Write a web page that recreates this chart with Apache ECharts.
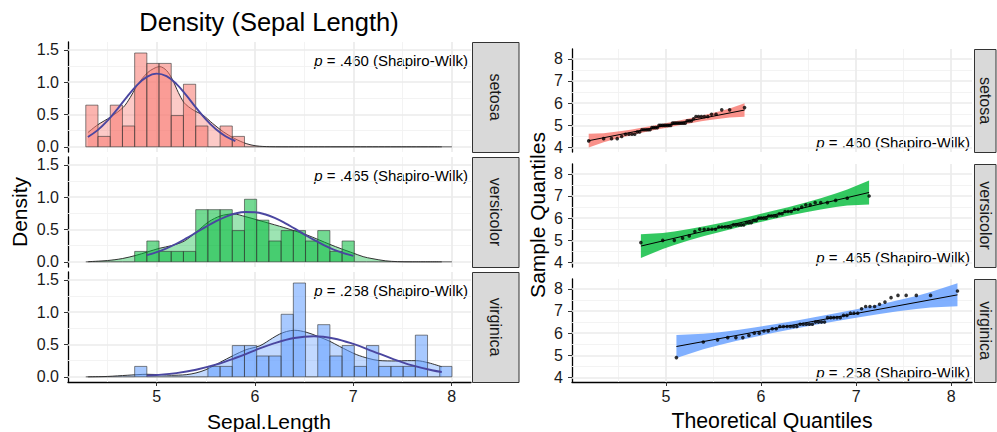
<!DOCTYPE html>
<html><head><meta charset="utf-8">
<script src="https://cdn.jsdelivr.net/npm/echarts@6/dist/echarts.min.js"></script>
<style>html,body{margin:0;padding:0;background:#fff}#c{width:997px;height:432px}</style>
</head><body><div id="c"></div>
<script>
const FONT = '"Liberation Sans", Arial, sans-serif';
const species = ['setosa', 'versicolor', 'virginica'];
const speciesColors = ['#F8766D', '#00BA38', '#619CFF'];
const pValues = ['.460', '.465', '.258'];

// histogram bins (edges) and densities
const binEdges = [4.279,4.403,4.528,4.652,4.776,4.900,5.024,5.148,5.272,5.397,5.521,5.645,5.769,5.893,6.017,6.141,6.266,6.390,6.514,6.638,6.762,6.886,7.010,7.134,7.259,7.383,7.507,7.631,7.755,7.879,8.003];
const histSetosa = [0.644,0.161,0.644,0.322,1.450,1.289,1.289,0.483,0.967,0.322,0,0.322,0.161,0,0,0,0,0,0,0,0,0,0,0,0,0,0,0,0,0];
const histVersicolor = [0,0,0,0,0.161,0.322,0.161,0.161,0.161,0.806,0.806,0.806,0.483,0.967,0.644,0.322,0.483,0.483,0.322,0.483,0.161,0.322,0,0,0,0,0,0,0,0];
const histVirginica = [0,0,0,0,0.161,0,0,0,0,0,0.161,0.161,0.483,0.483,0.322,0.322,0.967,1.450,0,0.806,0.322,0.483,0.161,0.483,0.161,0.161,0.161,0.644,0,0.161];

// kernel density curves [x, density]
const kdeSetosa = [[4.30,0.22],[4.40,0.34],[4.53,0.46],[4.66,0.61],[4.73,0.76],[4.79,0.92],[4.85,1.05],[4.91,1.15],[4.97,1.21],[5.03,1.24],[5.10,1.18],[5.16,1.04],[5.22,0.84],[5.28,0.68],[5.37,0.57],[5.47,0.49],[5.57,0.36],[5.68,0.23],[5.79,0.13],[5.91,0.05],[6.01,0.015],[6.15,0.002],[6.4,0],[7.9,0]];
const kdeVersicolor = [[4.30,0.002],[4.50,0.02],[4.65,0.05],[4.79,0.10],[4.90,0.15],[5.03,0.21],[5.15,0.25],[5.28,0.32],[5.41,0.47],[5.53,0.62],[5.65,0.71],[5.78,0.74],[5.90,0.70],[6.04,0.64],[6.25,0.55],[6.40,0.48],[6.52,0.42],[6.65,0.34],[6.76,0.27],[6.88,0.20],[6.99,0.14],[7.10,0.08],[7.19,0.05],[7.33,0.015],[7.45,0.003],[7.6,0],[7.9,0]];
const kdeVirginica = [[4.30,0.0],[4.50,0.006],[4.70,0.024],[4.90,0.039],[5.05,0.032],[5.15,0.024],[5.30,0.033],[5.40,0.06],[5.50,0.11],[5.64,0.22],[5.78,0.33],[5.91,0.42],[6.05,0.48],[6.18,0.60],[6.25,0.66],[6.32,0.70],[6.40,0.72],[6.52,0.69],[6.64,0.625],[6.76,0.55],[6.86,0.47],[7.03,0.345],[7.16,0.282],[7.26,0.252],[7.43,0.245],[7.55,0.25],[7.64,0.25],[7.77,0.215],[7.90,0.155]];

// normal curves [x, density]
const normSetosa = [[4.3,0.152],[4.4,0.258],[4.5,0.404],[4.6,0.583],[4.7,0.776],[4.8,0.954],[4.9,1.082],[5.0,1.132],[5.1,1.092],[5.2,0.973],[5.3,0.799],[5.4,0.606],[5.5,0.424],[5.6,0.274],[5.7,0.163],[5.8,0.090]];
const normVersicolor = [[4.9,0.103],[5.0,0.149],[5.1,0.208],[5.2,0.279],[5.3,0.362],[5.4,0.451],[5.5,0.541],[5.6,0.625],[5.7,0.696],[5.8,0.747],[5.9,0.771],[6.0,0.767],[6.1,0.735],[6.2,0.678],[6.3,0.603],[6.4,0.516],[6.5,0.425],[6.6,0.338],[6.7,0.259],[6.8,0.190],[6.9,0.135],[7.0,0.092]];
const normVirginica = [[4.9,0.019],[5.0,0.028],[5.2,0.058],[5.4,0.110],[5.6,0.188],[5.8,0.291],[6.0,0.409],[6.2,0.521],[6.4,0.600],[6.6,0.627],[6.8,0.593],[7.0,0.508],[7.2,0.395],[7.4,0.278],[7.6,0.177],[7.8,0.102],[7.9,0.075]];

// QQ: theoretical and sample quantiles
const theoSetosa = [4.186,4.343,4.426,4.486,4.533,4.573,4.609,4.641,4.670,4.697,4.722,4.746,4.768,4.790,4.811,4.831,4.851,4.870,4.889,4.908,4.926,4.944,4.962,4.980,4.997,5.015,5.032,5.050,5.068,5.086,5.104,5.123,5.142,5.161,5.181,5.201,5.222,5.244,5.266,5.290,5.315,5.342,5.371,5.403,5.439,5.479,5.526,5.586,5.669,5.826];
const sampSetosa = [4.3,4.4,4.4,4.4,4.5,4.6,4.6,4.6,4.6,4.7,4.7,4.8,4.8,4.8,4.8,4.8,4.9,4.9,4.9,4.9,5.0,5.0,5.0,5.0,5.0,5.0,5.0,5.0,5.1,5.1,5.1,5.1,5.1,5.1,5.1,5.1,5.2,5.2,5.2,5.3,5.4,5.4,5.4,5.4,5.4,5.5,5.5,5.7,5.7,5.8];
const theoVersicolor = [4.735,4.965,5.087,5.174,5.244,5.303,5.355,5.401,5.444,5.483,5.520,5.555,5.588,5.620,5.651,5.680,5.709,5.737,5.765,5.792,5.818,5.845,5.871,5.897,5.923,5.949,5.975,6.001,6.027,6.054,6.080,6.107,6.135,6.163,6.192,6.221,6.252,6.284,6.317,6.352,6.389,6.428,6.471,6.517,6.569,6.628,6.698,6.785,6.907,7.137];
const sampVersicolor = [4.9,5.0,5.0,5.1,5.2,5.4,5.5,5.5,5.5,5.5,5.5,5.6,5.6,5.6,5.6,5.6,5.7,5.7,5.7,5.7,5.7,5.8,5.8,5.8,5.9,5.9,6.0,6.0,6.0,6.0,6.1,6.1,6.1,6.1,6.2,6.2,6.3,6.3,6.3,6.4,6.4,6.5,6.6,6.6,6.7,6.7,6.7,6.8,6.9,7.0];
const theoVirginica = [5.109,5.392,5.542,5.649,5.735,5.808,5.872,5.929,5.981,6.030,6.075,6.118,6.159,6.198,6.236,6.273,6.308,6.343,6.377,6.411,6.443,6.476,6.508,6.540,6.572,6.604,6.636,6.668,6.700,6.733,6.765,6.799,6.833,6.868,6.903,6.940,6.978,7.017,7.058,7.101,7.146,7.195,7.247,7.304,7.368,7.441,7.527,7.634,7.784,8.067];
const sampVirginica = [4.9,5.6,5.7,5.8,5.8,5.8,5.9,6.0,6.0,6.1,6.1,6.2,6.2,6.3,6.3,6.3,6.3,6.3,6.3,6.4,6.4,6.4,6.4,6.4,6.5,6.5,6.5,6.5,6.7,6.7,6.7,6.7,6.7,6.8,6.8,6.9,6.9,6.9,7.1,7.2,7.2,7.2,7.3,7.4,7.6,7.7,7.7,7.7,7.7,7.9];

// QQ reference lines (endpoints)
const qqLineSetosa = [[4.186,4.310],[5.826,5.690]];
const qqLineVersicolor = [[4.735,4.743],[7.137,7.157]];
const qqLineVirginica = [[5.109,5.399],[8.067,7.726]];

// confidence bands: x, lower, upper
const bandXSetosa = [4.186,4.343,4.426,4.533,4.641,4.768,4.889,5.006,5.123,5.244,5.371,5.479,5.586,5.669,5.826];
const bandLoSetosa = [4.003,4.236,4.338,4.457,4.567,4.688,4.797,4.897,4.993,5.088,5.181,5.253,5.314,5.352,5.383];
const bandHiSetosa = [4.617,4.648,4.686,4.747,4.819,4.912,5.007,5.103,5.203,5.312,5.433,5.543,5.662,5.764,5.997];
const bandXVersicolor = [4.735,4.965,5.087,5.244,5.401,5.588,5.765,5.936,6.107,6.284,6.471,6.628,6.785,6.907,7.137];
const bandLoVersicolor = [4.206,4.614,4.792,5.001,5.191,5.404,5.594,5.770,5.938,6.104,6.267,6.393,6.500,6.566,6.620];
const bandHiVersicolor = [5.280,5.334,5.400,5.507,5.633,5.796,5.962,6.130,6.306,6.496,6.709,6.899,7.108,7.286,7.694];
const bandXVirginica = [5.109,5.392,5.542,5.735,5.929,6.159,6.377,6.588,6.799,7.017,7.247,7.441,7.634,7.784,8.067];
const bandLoVirginica = [4.881,5.274,5.446,5.647,5.831,6.036,6.219,6.389,6.552,6.711,6.868,6.990,7.093,7.157,7.208];
const bandHiVirginica = [5.917,5.968,6.032,6.135,6.257,6.414,6.573,6.737,6.906,7.089,7.294,7.478,7.679,7.851,8.244];

// axis tick labels
const leftXTicks = [5, 6, 7, 8];
const leftYTicks = [0, 0.5, 1, 1.5];
const rightXTicks = [5, 6, 7, 8];
const rightYTicks = [4, 5, 6, 7, 8];

// ---------- layout ----------
const hists = [histSetosa, histVersicolor, histVirginica];
const kdes = [kdeSetosa, kdeVersicolor, kdeVirginica];
const norms = [normSetosa, normVersicolor, normVirginica];
const theos = [theoSetosa, theoVersicolor, theoVirginica];
const samps = [sampSetosa, sampVersicolor, sampVirginica];
const qqLines = [qqLineSetosa, qqLineVersicolor, qqLineVirginica];
const bandX = [bandXSetosa, bandXVersicolor, bandXVirginica];
const bandLo = [bandLoSetosa, bandLoVersicolor, bandLoVirginica];
const bandHi = [bandHiSetosa, bandHiVersicolor, bandHiVirginica];

const L = {left: 68, width: 403, tops: [42, 157, 272], height: 110, xr: [4.098, 8.197], yr: [-0.08, 1.62]};
const R = {left: 572, width: 400, tops: [49, 164, 279], height: 103, xr: [4.01, 8.22], yr: [3.8, 8.44]};

function rgba(hex, a) {
  const n = parseInt(hex.slice(1), 16);
  return `rgba(${(n >> 16) & 255},${(n >> 8) & 255},${n & 255},${a})`;
}

const grids = [], xAxes = [], yAxes = [], series = [], graphics = [];
const axisText = {fontSize: 16, color: '#1a1a1a', fontFamily: FONT};

function addAxes(P, i, xTicks, yTicks, yFmt, showX) {
  grids.push({left: P.left, top: P.tops[i], width: P.width, height: P.height, containLabel: false});
  xAxes.push({
    gridIndex: grids.length - 1, type: 'value', min: P.xr[0], max: P.xr[1], show: showX,
    axisLine: {show: true, onZero: false, lineStyle: {color: '#000', width: 1.3}},
    axisTick: {show: true, length: 4, lineStyle: {color: '#333', width: 1}, customValues: xTicks},
    axisLabel: Object.assign({customValues: xTicks, margin: 6}, axisText),
    splitLine: {show: false}
  });
  yAxes.push({
    gridIndex: grids.length - 1, type: 'value', min: P.yr[0], max: P.yr[1],
    axisLine: {show: true, onZero: false, lineStyle: {color: '#000', width: 1.3}},
    axisTick: {show: true, length: 4, lineStyle: {color: '#333', width: 1}, customValues: yTicks},
    axisLabel: Object.assign({customValues: yTicks, margin: 9, formatter: yFmt}, axisText),
    splitLine: {show: false}
  });
  return grids.length - 1;
}

function gridLineSeries(gi, xMaj, xMin, yMaj, yMin) {
  const mk = [];
  xMin.forEach(v => mk.push({xAxis: v, lineStyle: {width: 0.9, color: '#F2F2F2', type: 'solid'}}));
  yMin.forEach(v => mk.push({yAxis: v, lineStyle: {width: 0.9, color: '#F2F2F2', type: 'solid'}}));
  xMaj.forEach(v => mk.push({xAxis: v, lineStyle: {width: 1.7, color: '#EBEBEB', type: 'solid'}}));
  yMaj.forEach(v => mk.push({yAxis: v, lineStyle: {width: 1.7, color: '#EBEBEB', type: 'solid'}}));
  return {
    type: 'line', xAxisIndex: gi, yAxisIndex: gi, data: [], silent: true, z: 1,
    markLine: {silent: true, symbol: ['none', 'none'], animation: false, label: {show: false}, z: 1, data: mk}
  };
}

for (let i = 0; i < 3; i++) {
  // ---- left: density histogram ----
  const gi = addAxes(L, i, leftXTicks, leftYTicks, v => Number(v).toFixed(1), i === 2);
  series.push(gridLineSeries(gi, [5, 6, 7, 8], [4.5, 5.5, 6.5, 7.5], [0, 0.5, 1, 1.5], [0.25, 0.75, 1.25]));
  const col = speciesColors[i];
  series.push({
    type: 'line', xAxisIndex: gi, yAxisIndex: gi, data: kdes[i], smooth: 0.3, symbol: 'none', z: 3,
    lineStyle: {color: '#333', width: 1}, areaStyle: {color: rgba(col, 0.55)}, silent: true
  });
  const hd = hists[i].map((h, k) => [binEdges[k], binEdges[k + 1], h]);
  series.push({
    type: 'custom', xAxisIndex: gi, yAxisIndex: gi, z: 4, silent: true, data: hd,
    encode: {x: [0, 1], y: 2},
    renderItem: (params, api) => {
      const p0 = api.coord([api.value(0), 0]);
      const p1 = api.coord([api.value(1), api.value(2)]);
      if (api.value(2) === 0) {
        return {type: 'line', shape: {x1: p0[0], y1: p0[1], x2: p1[0], y2: p0[1]},
          style: {stroke: 'rgba(50,50,50,0.75)', lineWidth: 1}};
      }
      return {type: 'rect', shape: {x: p0[0], y: p1[1], width: p1[0] - p0[0], height: p0[1] - p1[1]},
        style: {fill: rgba(col, 0.55), stroke: 'rgba(50,50,50,0.6)', lineWidth: 1}};
    }
  });
  series.push({
    type: 'line', xAxisIndex: gi, yAxisIndex: gi, data: norms[i], smooth: 0.4, symbol: 'none', z: 5,
    lineStyle: {color: '#4A46A0', width: 1.9}, silent: true
  });

  // ---- right: QQ plot ----
  const gr = addAxes(R, i, rightXTicks, rightYTicks, v => String(v), i === 2);
  series.push(gridLineSeries(gr, [5, 6, 7, 8], [4.5, 5.5, 6.5, 7.5], [4, 5, 6, 7, 8], [4.5, 5.5, 6.5, 7.5]));
  const bx = bandX[i], blo = bandLo[i], bhi = bandHi[i];
  series.push({
    type: 'custom', xAxisIndex: gr, yAxisIndex: gr, z: 3, silent: true,
    data: bx.map((x, k) => [x, blo[k], bhi[k]]), encode: {x: 0, y: [1, 2]},
    renderItem: (params, api) => {
      if (params.dataIndex !== 0) return null;
      const pts = [];
      for (let k = 0; k < bx.length; k++) pts.push(api.coord([bx[k], bhi[k]]));
      for (let k = bx.length - 1; k >= 0; k--) pts.push(api.coord([bx[k], blo[k]]));
      return {type: 'polygon', shape: {points: pts}, style: {fill: rgba(col, 0.8)}};
    }
  });
  series.push({
    type: 'line', xAxisIndex: gr, yAxisIndex: gr, data: qqLines[i], symbol: 'none', z: 5,
    lineStyle: {color: '#000', width: 1}, silent: true
  });
  series.push({
    type: 'scatter', xAxisIndex: gr, yAxisIndex: gr, z: 6, silent: true,
    data: theos[i].map((x, k) => [x, samps[i][k]]), symbolSize: 3.6, itemStyle: {color: '#000'}
  });

  // ---- strips ----
  const stripStyle = {fill: '#D9D9D9', stroke: '#333', lineWidth: 1};
  graphics.push({type: 'rect', shape: {x: 472.5, y: L.tops[i] + 0.5, width: 46.5, height: L.height}, style: stripStyle, silent: true});
  graphics.push({type: 'text', x: 495.5, y: L.tops[i] + L.height / 2, rotation: -Math.PI / 2, silent: true,
    style: {text: species[i], fill: '#1a1a1a', font: `16px ${FONT}`, align: 'center', verticalAlign: 'middle', textAlign: 'center', textVerticalAlign: 'middle'}});
  graphics.push({type: 'rect', shape: {x: 974.5, y: R.tops[i] + 0.5, width: 21.5, height: R.height}, style: stripStyle, silent: true});
  graphics.push({type: 'text', x: 985.5, y: R.tops[i] + R.height / 2, rotation: -Math.PI / 2, silent: true,
    style: {text: species[i], fill: '#1a1a1a', font: `16px ${FONT}`, align: 'center', verticalAlign: 'middle', textAlign: 'center', textVerticalAlign: 'middle'}});

  // ---- p-value annotations ----
  const ann = {
    text: `{i|p} = ${pValues[i]} (Shapiro-Wilk)`, fill: '#000', font: `15px ${FONT}`,
    rich: {i: {fontStyle: 'italic', fontSize: 15, fontFamily: FONT, fill: '#000'}},
    align: 'right', verticalAlign: 'middle', textAlign: 'right', textVerticalAlign: 'middle'
  };
  graphics.push({type: 'text', x: 468, y: L.tops[i] + 18, silent: true, style: Object.assign({}, ann)});
  graphics.push({type: 'text', x: 970, y: R.tops[i] + R.height - 9.5, silent: true, style: Object.assign({}, ann)});
}

// titles
function txt(x, y, s, size, rot) {
  return {type: 'text', x: x, y: y, rotation: rot || 0, silent: true,
    style: {text: s, fill: '#000', font: `${size}px ${FONT}`, align: 'center', verticalAlign: 'middle', textAlign: 'center', textVerticalAlign: 'middle'}};
}
graphics.push(txt(269, 22, 'Density (Sepal Length)', 25.5));
graphics.push(txt(269, 421, 'Sepal.Length', 21));
graphics.push(txt(772, 421, 'Theoretical Quantiles', 21.3));
graphics.push(txt(19, 212, 'Density', 21, -Math.PI / 2 * -1));
graphics.push(txt(537, 215, 'Sample Quantiles', 21, Math.PI / 2));

const chart = echarts.init(document.getElementById('c'), null, {renderer: 'svg', width: 997, height: 432});
chart.setOption({
  animation: false,
  backgroundColor: '#fff',
  grid: grids, xAxis: xAxes, yAxis: yAxes, series: series, graphic: graphics
});
</script>
</body></html>
